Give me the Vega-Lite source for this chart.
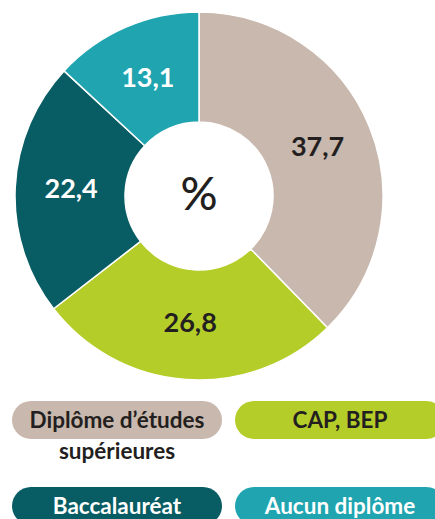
{
  "$schema": "https://vega.github.io/schema/vega-lite/v6.json",
  "padding": {"left": 12, "top": 0, "right": 0, "bottom": 0},
  "spacing": 9,
  "bounds": "flush",
  "config": {
    "view": {"stroke": null},
    "font": "Lato",
    "locale": {"number": {"decimal": ",", "thousands": " ", "grouping": [3], "currency": ["", " €"]}}
  },
  "datasets": {
    "d": [
      {"cat": "Diplôme d’études supérieures", "value": 37.7, "label": "Diplôme d’études\nsupérieures"},
      {"cat": "CAP, BEP", "value": 26.8, "label": "CAP, BEP"},
      {"cat": "Baccalauréat", "value": 22.4, "label": "Baccalauréat"},
      {"cat": "Aucun diplôme", "value": 13.1, "label": "Aucun diplôme"}
    ]
  },
  "vconcat": [
    {
      "width": 374,
      "height": 392,
      "data": {"name": "d"},
      "layer": [
        {
          "mark": {"type": "arc", "outerRadius": 184, "innerRadius": 74, "stroke": "white", "strokeWidth": 1.5},
          "encoding": {
            "theta": {"field": "value", "type": "quantitative", "stack": true},
            "order": {"field": "cat", "sort": "descending"},
            "color": {
              "field": "cat", "type": "nominal", "legend": null,
              "scale": {
                "domain": ["Diplôme d’études supérieures", "CAP, BEP", "Baccalauréat", "Aucun diplôme"],
                "range": ["#C9B8AD", "#B5CD29", "#085C63", "#1FA4B0"]
              }
            }
          }
        },
        {
          "mark": {"type": "text", "radius": 128, "fontSize": 27, "fontWeight": "bold"},
          "encoding": {
            "theta": {"field": "value", "type": "quantitative", "stack": true},
            "order": {"field": "cat", "sort": "descending"},
            "text": {"field": "value", "type": "quantitative", "format": ".1f"},
            "color": {
              "field": "cat", "type": "nominal", "legend": null,
              "scale": {
                "domain": ["Diplôme d’études supérieures", "CAP, BEP", "Baccalauréat", "Aucun diplôme"],
                "range": ["#231F20", "#231F20", "#FFFFFF", "#FFFFFF"]
              }
            }
          }
        },
        {
          "data": {"values": [{"t": "%"}]},
          "mark": {"type": "text", "fontSize": 46, "fontWeight": 500, "color": "#231F20"},
          "encoding": {"text": {"field": "t", "type": "nominal"}}
        }
      ],
      "resolve": {"scale": {"color": "independent"}}
    },
    {
      "data": {"name": "d"},
      "columns": 2,
      "bounds": "flush",
      "spacing": {"row": 48, "column": 13},
      "concat": [
        {
          "width": 210, "height": 38,
          "transform": [{"filter": "datum.cat === 'Diplôme d’études supérieures'"}],
          "layer": [
            {"mark": {"type": "rect", "cornerRadius": 19, "color": "#C9B8AD"}, "encoding": {}},
            {"mark": {"type": "text", "fontSize": 22.5, "fontWeight": "bold", "baseline": "alphabetic", "dy": 8, "lineBreak": "\n", "lineHeight": 31, "color": "#231F20"},
             "encoding": {"text": {"field": "label", "type": "nominal"}}}
          ]
        },
        {
          "width": 210, "height": 38,
          "transform": [{"filter": "datum.cat === 'CAP, BEP'"}],
          "layer": [
            {"mark": {"type": "rect", "cornerRadius": 19, "color": "#B5CD29"}, "encoding": {}},
            {"mark": {"type": "text", "fontSize": 22.5, "fontWeight": "bold", "baseline": "alphabetic", "dy": 8, "lineBreak": "\n", "lineHeight": 31, "color": "#231F20"},
             "encoding": {"text": {"field": "label", "type": "nominal"}}}
          ]
        },
        {
          "width": 210, "height": 38,
          "transform": [{"filter": "datum.cat === 'Baccalauréat'"}],
          "layer": [
            {"mark": {"type": "rect", "cornerRadius": 19, "color": "#085C63"}, "encoding": {}},
            {"mark": {"type": "text", "fontSize": 22.5, "fontWeight": "bold", "baseline": "alphabetic", "dy": 8, "lineBreak": "\n", "lineHeight": 31, "color": "#FFFFFF"},
             "encoding": {"text": {"field": "label", "type": "nominal"}}}
          ]
        },
        {
          "width": 210, "height": 38,
          "transform": [{"filter": "datum.cat === 'Aucun diplôme'"}],
          "layer": [
            {"mark": {"type": "rect", "cornerRadius": 19, "color": "#1FA4B0"}, "encoding": {}},
            {"mark": {"type": "text", "fontSize": 22.5, "fontWeight": "bold", "baseline": "alphabetic", "dy": 8, "lineBreak": "\n", "lineHeight": 31, "color": "#FFFFFF"},
             "encoding": {"text": {"field": "label", "type": "nominal"}}}
          ]
        }
      ]
    }
  ]
}
